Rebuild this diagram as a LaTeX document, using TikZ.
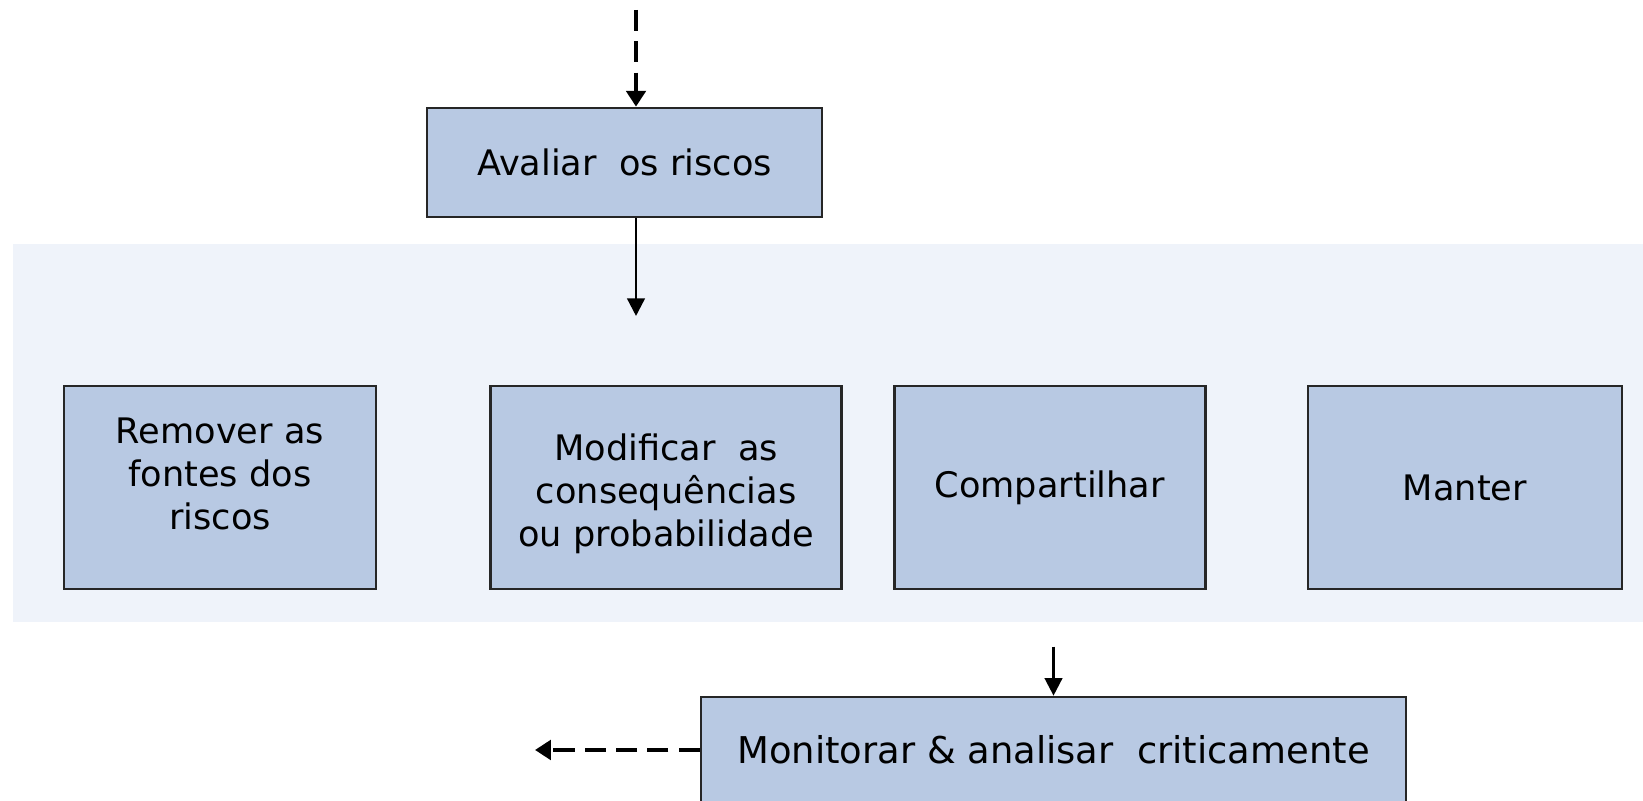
\documentclass[tikz,border=0pt]{standalone}
\usepackage{fontspec}
\setmainfont{DejaVu Sans}
\usepackage{xcolor}
\usetikzlibrary{arrows.meta,calc,positioning}
\definecolor{boxblue}{HTML}{B8C9E3}
\definecolor{panelblue}{HTML}{EFF3FA}
\definecolor{edgegray}{HTML}{262626}
\tikzset{%
	process/.style   = {draw=edgegray, fill=boxblue, line width=0.75pt, rectangle, inner sep=0pt, text centered, align=center, font=\fontsize{10}{12.2}\selectfont},
	arrow/.style     = {line width=0.7pt, -{Triangle[width=5pt,length=5pt]}},
	dasharrow/.style = {line width=1.3pt, dash pattern=on 6pt off 2.9pt, -{Triangle[width=5.5pt,length=4.5pt]}},
}

\begin{document}
\begin{tikzpicture}
	\useasboundingbox (0,0) rectangle (16.43,8.01);
	\fill[panelblue] (0.13,1.79) rectangle (16.43,5.57);
	
	\node[process, minimum width=3.95cm, minimum height=1.09cm] (aval) at (6.245,6.385) {Avaliar\ \ os riscos};
	
	\node[process, minimum width=3.12cm, minimum height=2.03cm] (remov) at (2.20,3.135) {Remover\ as\\fontes dos\\riscos\\[-4.5pt]\mbox{}};
	\node[process, minimum width=3.51cm, minimum height=2.03cm, right=1.12cm of remov] (modif) {\mbox{}\\[-1.2pt]Modificar\ \ as\\consequências\\ou probabilidade};
	\node[process, minimum width=3.11cm, minimum height=2.03cm, right=0.50cm of modif] (compart) {Compartilhar};
	\node[process, minimum width=3.14cm, minimum height=2.03cm, right=1.00cm of compart] (mant) {Manter};
	
	\node[process, minimum width=7.05cm, minimum height=1.06cm, font=\fontsize{10.5}{12.6}\selectfont] (monit) at (10.535,0.51) {Monitorar \& analisar\ \ criticamente};
	
	\coordinate (top) at (6.36,7.91);
	\coordinate (mid) at (6.36,4.85);
	\coordinate[above=0.49cm of monit.north] (dn);
	\coordinate (back) at (5.35,0.51);
	
	\draw[dasharrow] (top) -- (top |- aval.north);
	\draw[arrow] (top |- aval.south) -- (mid);
	\draw[arrow] (dn) -- (monit.north);
	\draw[dasharrow] (monit.west) -- (back);
\end{tikzpicture}
\end{document}
